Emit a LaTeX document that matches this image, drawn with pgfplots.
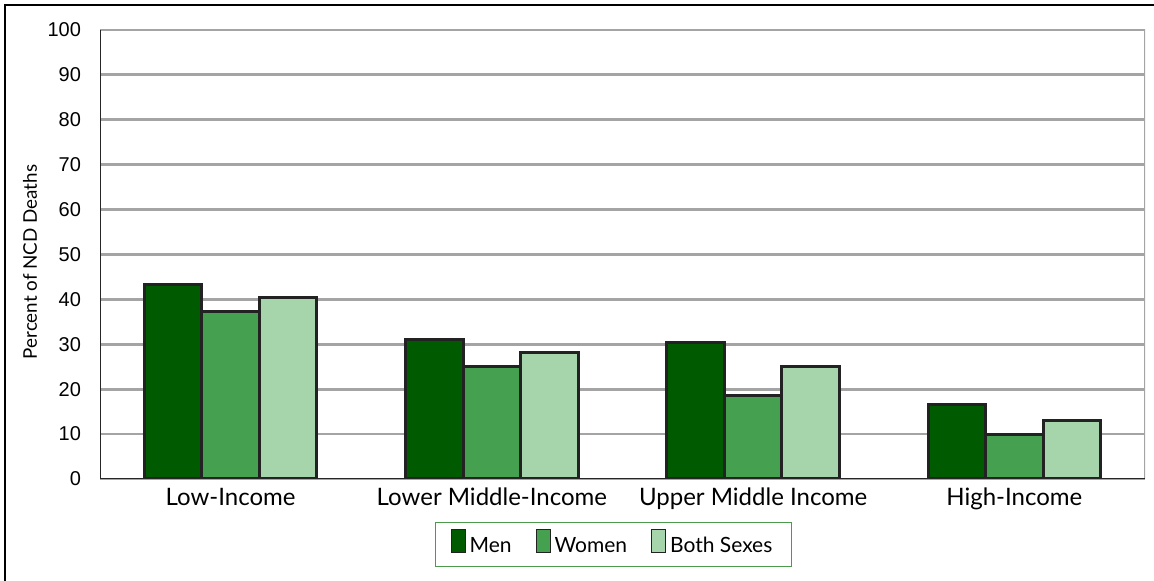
\documentclass[border=0pt]{standalone}
\usepackage{fontspec}
\setmainfont{Lato}
\newfontfamily\tickfont{Liberation Sans}
\usepackage{pgfplots}
\pgfplotsset{compat=1.18}
\definecolor{men}{HTML}{005A00}
\definecolor{women}{HTML}{45A050}
\definecolor{both}{HTML}{A6D4AB}
\definecolor{gridg}{HTML}{A4A4A4}
\definecolor{legg}{HTML}{4C9A4C}
\definecolor{outl}{HTML}{222222}
\begin{document}
\begin{tikzpicture}
\begin{axis}[
  at={(0,0)}, anchor=south west,
  scale only axis,
  width=522.5pt, height=224.5pt,
  xmin=-0.5, xmax=3.5, ymin=0, ymax=100,
  ytick={0,10,...,100},
  xtick={0,1,2,3},
  xticklabels={Low-Income, Lower Middle-Income, Upper Middle Income, High-Income},
  x tick label style={font=\fontsize{12}{14}\selectfont, yshift=-1pt},
  y tick label style={font=\tickfont\fontsize{10}{12}\selectfont, xshift=-6pt},
  /pgf/number format/assume math mode=true,
  major tick length=0pt,
  ymajorgrids, grid style={draw=gridg, line width=1.4pt},
  axis line style={draw=none},
  ybar, bar width=0.22,
  legend style={at={(0.4914,-0.1459)}, anchor=center, draw=legg, line width=0.6pt,
    font=\fontsize{10.5}{12}\selectfont, legend columns=3,
    /tikz/every even column/.style={column sep=10pt}, inner xsep=7.5pt, inner ysep=3.5pt},
  legend image code/.code={\draw[#1, line width=0.5pt] (0pt,-3pt) rectangle (7pt,8.5pt);},
]
\addplot[fill=men, draw=outl, line width=1.5pt, bar shift=-0.22] coordinates {(0,43.4) (1,31.0) (2,30.5) (3,16.7)};
\addplot[fill=women, draw=outl, line width=1.5pt, bar shift=0] coordinates {(0,37.4) (1,25.0) (2,18.7) (3,10.0)};
\addplot[fill=both, draw=outl, line width=1.5pt, bar shift=0.22] coordinates {(0,40.5) (1,28.1) (2,25.0) (3,13.1)};
\legend{Men, Women, Both Sexes}
\draw[gridg, line width=1.4pt] (rel axis cs:0,1) -- (rel axis cs:1,1) -- (rel axis cs:1,0);
\draw[black!85, line width=1.3pt] (rel axis cs:0,1) -- (rel axis cs:0,0) -- (rel axis cs:1,0);
\end{axis}
\node[rotate=90, font=\fontsize{9.4}{11}\selectfont] at (-35pt,108.5pt) {Percent of NCD Deaths};
\path[use as bounding box] (-50pt,-51pt) rectangle (527pt,239.5pt);
\draw[black, line width=1pt] (-47.5pt,-51pt) -- (-47.5pt,237pt) -- (527pt,237pt);
\end{tikzpicture}
\end{document}
